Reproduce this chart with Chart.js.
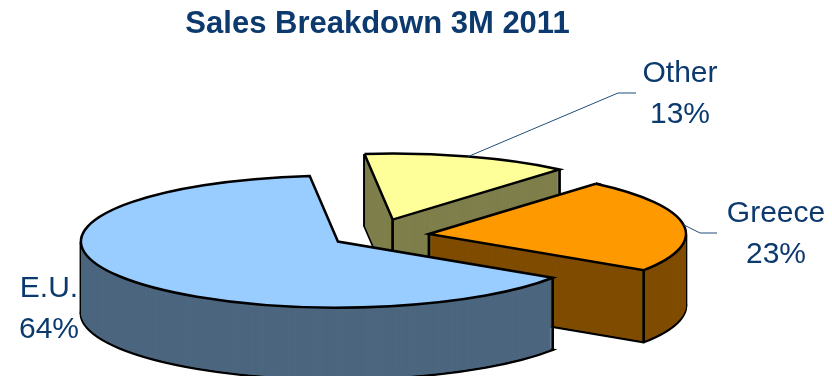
<!DOCTYPE html>
<html>
<head>
<meta charset="utf-8">
<title>Sales Breakdown 3M 2011</title>
<script src="https://cdn.jsdelivr.net/npm/chart.js@4/dist/chart.umd.min.js"></script>
<style>
  html, body { margin: 0; padding: 0; background: #fff; }
  #wrap { width: 832px; height: 376px; }
</style>
</head>
<body>
<div id="wrap"><canvas id="salesPie" width="832" height="376"></canvas></div>
<script>
// ---- DATA ----
var categories = ['E.U.', 'Other', 'Greece'];
var shares = [64, 13, 23];

// ---- STYLE ----
var topColors = ['#99CCFF', '#FFFF99', '#FF9900'];
var sideColors = ['#4C667F', '#7F7F4C', '#7F4C00'];
var explode = [0.16, 0.26, 0.22];            // fraction of radius, along slice middle
var textColor = '#0C3A6E';
var leaderColor = '#1F4E79';

// flattened view of the pie: centre, half axes, wall height
var view = { cx: 373, cy: 236, rx: 257, ry: 66, depth: 72 };

// label anchors (baseline of first line) and leader bends
var labelSpots = [
  { x: 49, y: 297 },
  { x: 680, y: 82, bend: [618, 93], end: [636, 93] },
  { x: 776, y: 222, bend: [700, 233], end: [717, 233] }
];

// ---- 3D PIE PLUGIN ----
function inRange(a, s, e) {
  var t = Math.PI * 2;
  var k = Math.ceil((s - a) / t);
  return a + k * t <= e;
}

var pie3d = {
  id: 'pie3d',
  beforeDatasetsDraw: function (chart) {
    var ctx = chart.ctx;
    var arcs = chart.getDatasetMeta(0).data;

    function place(el, i, d) {
      var h = (el.startAngle + el.endAngle) / 2;
      var r = el.outerRadius;
      ctx.setTransform(1, 0, 0, 1, 0, 0);
      ctx.translate(view.cx, view.cy + d);
      ctx.scale(view.rx / r, view.ry / r);
      ctx.translate(-el.x + explode[i] * r * Math.cos(h), -el.y + explode[i] * r * Math.sin(h));
    }

    function paint(el, i, d, color) {
      place(el, i, d);
      var f = Object.create(el);
      f.options = Object.assign({}, el.options, { backgroundColor: color, borderWidth: 0, offset: 0 });
      f.draw(ctx);
    }

    function outline() {
      ctx.save();
      ctx.setTransform(1, 0, 0, 1, 0, 0);
      ctx.lineWidth = 2.5;
      ctx.lineJoin = 'miter';
      ctx.strokeStyle = '#000';
      ctx.stroke();
      ctx.restore();
    }

    // short black ticks at corners so vertical wall edges show up
    function edgeMarks(el, i, d) {
      place(el, i, d);
      var m = ctx.getTransform();
      var r = el.outerRadius;
      var pts = [[el.x, el.y]];
      [el.startAngle, el.endAngle].forEach(function (a) {
        pts.push([el.x + r * Math.cos(a), el.y + r * Math.sin(a)]);
      });
      [0, Math.PI].forEach(function (a) {
        if (inRange(a, el.startAngle, el.endAngle)) {
          pts.push([el.x + r * Math.cos(a), el.y + r * Math.sin(a)]);
        }
      });
      ctx.save();
      ctx.setTransform(1, 0, 0, 1, 0, 0);
      ctx.fillStyle = '#000';
      pts.forEach(function (p) {
        var q = m.transformPoint(new DOMPoint(p[0], p[1]));
        ctx.fillRect(q.x - 1.2, q.y - 1, 2.4, 2);
      });
      ctx.restore();
    }

    ctx.save();
    // walls: stacked layers, deepest first
    for (var d = view.depth; d >= 1; d--) {
      arcs.forEach(function (el, i) {
        paint(el, i, d, sideColors[i]);
        if (d === view.depth) outline();
        edgeMarks(el, i, d);
      });
    }
    // top faces
    arcs.forEach(function (el, i) { paint(el, i, 0, topColors[i]); });
    arcs.forEach(function (el, i) {
      paint(el, i, 0, 'rgba(0,0,0,0)');
      outline();
    });
    ctx.restore();

    chart.$pie3dPlace = place;
    return false;
  },

  afterDraw: function (chart) {
    var ctx = chart.ctx;
    var arcs = chart.getDatasetMeta(0).data;
    ctx.save();
    arcs.forEach(function (el, i) {
      var spot = labelSpots[i];
      if (spot.bend) {
        chart.$pie3dPlace(el, i, 0);
        var h = (el.startAngle + el.endAngle) / 2;
        var q = ctx.getTransform().transformPoint(
          new DOMPoint(el.x + el.outerRadius * Math.cos(h), el.y + el.outerRadius * Math.sin(h)));
        ctx.setTransform(1, 0, 0, 1, 0, 0);
        ctx.beginPath();
        ctx.moveTo(q.x, q.y);
        ctx.lineTo(spot.bend[0], spot.bend[1]);
        ctx.lineTo(spot.end[0], spot.end[1]);
        ctx.strokeStyle = leaderColor;
        ctx.lineWidth = 1;
        ctx.stroke();
      }
      ctx.setTransform(1, 0, 0, 1, 0, 0);
      ctx.fillStyle = textColor;
      ctx.font = '30px Arial, "Liberation Sans", sans-serif';
      ctx.textAlign = 'center';
      ctx.textBaseline = 'alphabetic';
      ctx.fillText(categories[i], spot.x, spot.y);
      ctx.fillText(shares[i] + '%', spot.x, spot.y + 41);
    });
    ctx.restore();
  }
};

// ---- CHART ----
new Chart(document.getElementById('salesPie'), {
  type: 'pie',
  data: {
    labels: categories,
    datasets: [{
      data: shares,
      backgroundColor: topColors,
      borderWidth: 0,
      hoverOffset: 0,
      clip: false
    }]
  },
  options: {
    responsive: false,
    devicePixelRatio: 1,
    animation: false,
    events: [],
    rotation: 123.3,
    layout: { padding: { right: 77 } },
    plugins: {
      legend: { display: false },
      tooltip: { enabled: false },
      title: {
        display: true,
        text: 'Sales Breakdown 3M 2011',
        color: textColor,
        font: { family: 'Arial, "Liberation Sans", sans-serif', size: 31, weight: 'bold' },
        padding: { top: 6, bottom: 4 }
      }
    }
  },
  plugins: [pie3d]
});
</script>
</body>
</html>
